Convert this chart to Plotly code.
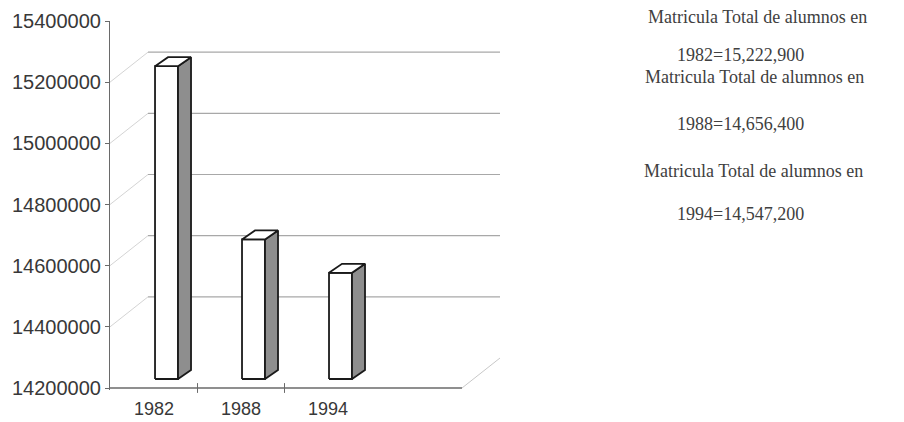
import plotly.graph_objects as go

# ---- data ----
years = ["1982", "1988", "1994"]
enrollment = [15222900, 14656400, 14547200]
y_ticks = [14200000, 14400000, 14600000, 14800000, 15000000, 15200000, 15400000]
legend_prefix = "Matricula Total de alumnos en"

# ---- geometry / style ----
W, H = 896, 414          # page body adds 8px margin
M_L, M_R, M_T, M_B = 102, 404, 13, 32
Y_MIN, Y_MAX = y_ticks[0], y_ticks[-1]
X_MIN, X_MAX = -0.506, 3.977
plot_w = W - M_L - M_R
ux = (X_MAX - X_MIN) / plot_w          # data units per pixel (x)
uy = (Y_MAX - Y_MIN) / 367.0           # data units per pixel (y)
Y_LO = Y_MIN - 2 * uy

wall_dx, wall_dy = 38 * ux, 30 * uy    # back wall offset
mid_dx, mid_dy = 1 * ux, 9 * uy        # bars sit mid-depth
bar_w = 23 * ux
dep_dx, dep_dy = 13 * ux, 9 * uy       # bar depth

EDGE = "#1a1a1a"
GRID = "#a8a8a8"
AXIS = "#6a6a6a"

fig = go.Figure()

# back wall gridlines
for t in y_ticks[1:-1]:
    fig.add_trace(go.Scatter(
        x=[X_MIN + wall_dx, X_MAX], y=[t + wall_dy, t + wall_dy],
        mode="lines", line=dict(color=GRID, width=1.2),
        hoverinfo="skip", showlegend=False))
    # connector from front axis to back wall
    fig.add_trace(go.Scatter(
        x=[X_MIN, X_MIN + wall_dx], y=[t, t + wall_dy],
        mode="lines", line=dict(color="#d4d4d4", width=1),
        hoverinfo="skip", showlegend=False))

# floor front edge and right diagonal
floor_end = X_MIN + 352 * ux
fig.add_trace(go.Scatter(
    x=[X_MIN, floor_end], y=[Y_MIN, Y_MIN],
    mode="lines", line=dict(color=AXIS, width=1.3),
    hoverinfo="skip", showlegend=False))
fig.add_trace(go.Scatter(
    x=[floor_end, floor_end + wall_dx], y=[Y_MIN, Y_MIN + wall_dy],
    mode="lines", line=dict(color="#c8c8c8", width=1),
    hoverinfo="skip", showlegend=False))
# category separator ticks
fig.add_trace(go.Scatter(
    x=[0.5, 1.5], y=[Y_MIN, Y_MIN], mode="markers",
    marker=dict(symbol="line-ns-open", size=7, color=AXIS,
                line=dict(color=AXIS, width=1)),
    cliponaxis=False, hoverinfo="skip", showlegend=False))

# 3D bars
for i, (yr, v) in enumerate(zip(years, enrollment)):
    xl = i + mid_dx
    xr = xl + bar_w
    b = Y_MIN + mid_dy
    top = v + mid_dy
    faces = [
        ([xl, xr, xr, xl, xl], [b, b, top, top, b], "#ffffff"),
        ([xr, xr + dep_dx, xr + dep_dx, xr, xr],
         [b, b + dep_dy, top + dep_dy, top, b], "#8e8e8e"),
        ([xl, xl + dep_dx, xr + dep_dx, xr, xl],
         [top, top + dep_dy, top + dep_dy, top, top], "#ffffff"),
    ]
    for fx, fy, col in faces:
        fig.add_trace(go.Scatter(
            x=fx, y=fy, mode="lines", fill="toself", fillcolor=col,
            line=dict(color=EDGE, width=1.8),
            hoverinfo="skip", showlegend=False))

# legend-like text block
text_pos = [(1.374, 1.010, 1.449, 0.907),
            (1.366, 0.847, 1.449, 0.722),
            (1.364, 0.594, 1.449, 0.477)]
for (yr, v), (px1, py1, px2, py2) in zip(zip(years, enrollment), text_pos):
    fig.add_annotation(x=px1, y=py1, xref="paper", yref="paper",
                       text=legend_prefix, showarrow=False,
                       xanchor="left", yanchor="middle",
                       font=dict(family="Liberation Serif", size=18, color="#404040"))
    fig.add_annotation(x=px2, y=py2, xref="paper", yref="paper",
                       text=f"{yr}={v:,}", showarrow=False,
                       xanchor="left", yanchor="middle",
                       font=dict(family="Liberation Serif", size=18, color="#404040"))

fig.update_layout(
    width=W, height=H,
    margin=dict(l=M_L, r=M_R, t=M_T, b=M_B, autoexpand=False),
    paper_bgcolor="white", plot_bgcolor="white",
    showlegend=False,
    xaxis=dict(range=[X_MIN, X_MAX], tickvals=list(range(len(years))),
               ticktext=years, showgrid=False, zeroline=False, showline=False,
               ticks="", ticklabelstandoff=6,
               tickfont=dict(family="Liberation Sans", size=18, color="#383838")),
    yaxis=dict(range=[Y_LO, Y_MAX], tickvals=y_ticks,
               ticktext=[str(t) for t in y_ticks],
               showgrid=False, zeroline=False, showline=True,
               linecolor=AXIS, linewidth=1.2, ticks="outside", ticklen=4,
               tickcolor=AXIS,
               tickfont=dict(family="Liberation Sans", size=20, color="#383838")),
)

fig.write_html("out.html")
